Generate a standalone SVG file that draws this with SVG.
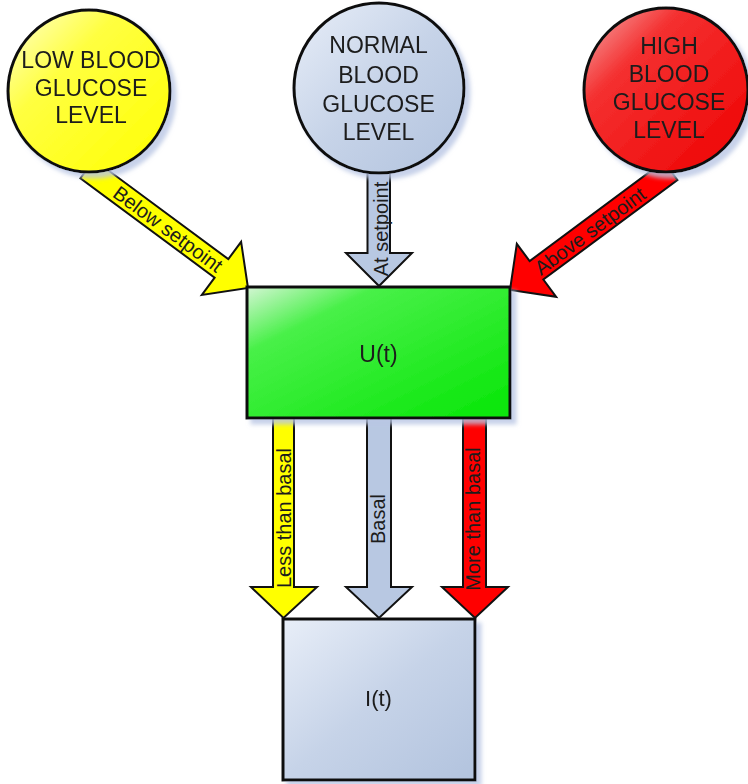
<svg xmlns="http://www.w3.org/2000/svg" width="748" height="784" viewBox="0 0 748 784">
<style>
.lbl{font-family:"Liberation Sans",Arial,sans-serif;fill:#1c1c1c;text-anchor:middle}
.big{font-size:23px}
.arr{font-size:20px}
.edge{stroke:#111;stroke-width:2;stroke-linejoin:miter}
.node{stroke:#111;stroke-width:3}
</style>
<defs>
<filter id="sh" x="-10%" y="-10%" width="130%" height="130%">
<feGaussianBlur in="SourceAlpha" stdDeviation="2"/>
<feOffset dx="5" dy="5" result="b"/>
<feFlood flood-color="#b9c6e4" flood-opacity="0.8"/>
<feComposite in2="b" operator="in"/>
<feMerge><feMergeNode/><feMergeNode in="SourceGraphic"/></feMerge>
</filter>
<linearGradient id="gy" x1="0" y1="0" x2="1" y2="1">
<stop offset="0" stop-color="#ffffd0"/><stop offset="0.35" stop-color="#ffff40"/><stop offset="1" stop-color="#ffff00"/>
</linearGradient>
<linearGradient id="gb" x1="0" y1="0" x2="1" y2="1">
<stop offset="0" stop-color="#e8eef8"/><stop offset="0.5" stop-color="#c6d3e8"/><stop offset="1" stop-color="#b2c3de"/>
</linearGradient>
<linearGradient id="gr" x1="0" y1="0" x2="1" y2="1">
<stop offset="0" stop-color="#f6b0b0"/><stop offset="0.3" stop-color="#f43030"/><stop offset="1" stop-color="#ee0000"/>
</linearGradient>
<linearGradient id="gg" x1="0" y1="0" x2="1" y2="1">
<stop offset="0" stop-color="#d4f6d4"/><stop offset="0.25" stop-color="#48f048"/><stop offset="1" stop-color="#06e606"/>
</linearGradient>
<polygon id="ah" points="-11.5,-200 11.5,-200 11.5,-33 33,-33 0,0 -33,-33 -11.5,-33"/>
</defs>
<rect width="748" height="784" fill="#ffffff"/>
<g id="connectors">
<g id="e-low">
<use href="#ah" class="edge" fill="#ffff00" transform="translate(248,288) rotate(-53.5)"/>
<text class="lbl arr" transform="translate(168,229) rotate(36.5)" x="0" y="7">Below setpoint</text>
</g>
<g id="e-normal">
<polygon class="edge" fill="#b8c8e2" points="367.5,160 390,160 390,253 412,253 379,286 346,253 367.5,253"/>
<text class="lbl arr" transform="translate(381,229) rotate(-90)" x="0" y="7">At setpoint</text>
</g>
<g id="e-high">
<use href="#ah" class="edge" fill="#ff0000" transform="translate(510,290) rotate(53.4)"/>
<text class="lbl arr" transform="translate(590,231) rotate(-36.6)" x="0" y="7">Above setpoint</text>
</g>
<g id="e-less">
<polygon class="edge" fill="#ffff00" points="273,418 294,418 294,587 317,587 283.5,618 251,587 273,587"/>
<text class="lbl arr" transform="translate(284,518) rotate(-90)" x="0" y="7">Less than basal</text>
</g>
<g id="e-basal">
<polygon class="edge" fill="#b8c8e2" points="367,418 391,418 391,587 412,587 379,618 346,587 367,587"/>
<text class="lbl arr" transform="translate(378,519) rotate(-90)" x="0" y="7">Basal</text>
</g>
<g id="e-more">
<polygon class="edge" fill="#ff0000" points="463,418 486,418 486,587 508,587 475,618 442,587 463,587"/>
<text class="lbl arr" transform="translate(473,519) rotate(-90)" x="0" y="7">More than basal</text>
</g>
</g>
<g id="n-low" filter="url(#sh)">
<circle class="node" cx="89" cy="91" r="81" fill="url(#gy)"/>
<text class="lbl big" x="91" y="68">LOW BLOOD</text>
<text class="lbl big" x="91" y="95.5">GLUCOSE</text>
<text class="lbl big" x="91" y="123">LEVEL</text>
</g>
<g id="n-normal" filter="url(#sh)">
<circle class="node" cx="379" cy="88" r="85" fill="url(#gb)"/>
<text class="lbl big" x="378.5" y="53">NORMAL</text>
<text class="lbl big" x="378.5" y="82.5">BLOOD</text>
<text class="lbl big" x="378.5" y="111.5">GLUCOSE</text>
<text class="lbl big" x="378.5" y="140">LEVEL</text>
</g>
<g id="n-high" filter="url(#sh)">
<circle class="node" cx="666" cy="90" r="82" fill="url(#gr)"/>
<text class="lbl big" x="669" y="54">HIGH</text>
<text class="lbl big" x="669" y="82">BLOOD</text>
<text class="lbl big" x="669" y="110">GLUCOSE</text>
<text class="lbl big" x="669" y="138">LEVEL</text>
</g>
<g id="n-u" filter="url(#sh)">
<rect class="node" x="247" y="287" width="263" height="131" fill="url(#gg)"/>
<text class="lbl big" x="378.5" y="362">U(t)</text>
</g>
<g id="n-i" filter="url(#sh)">
<rect class="node" x="283" y="619" width="192" height="161" fill="url(#gb)"/>
<text class="lbl" style="font-size:22px" x="378.5" y="706">I(t)</text>
</g>
</svg>
